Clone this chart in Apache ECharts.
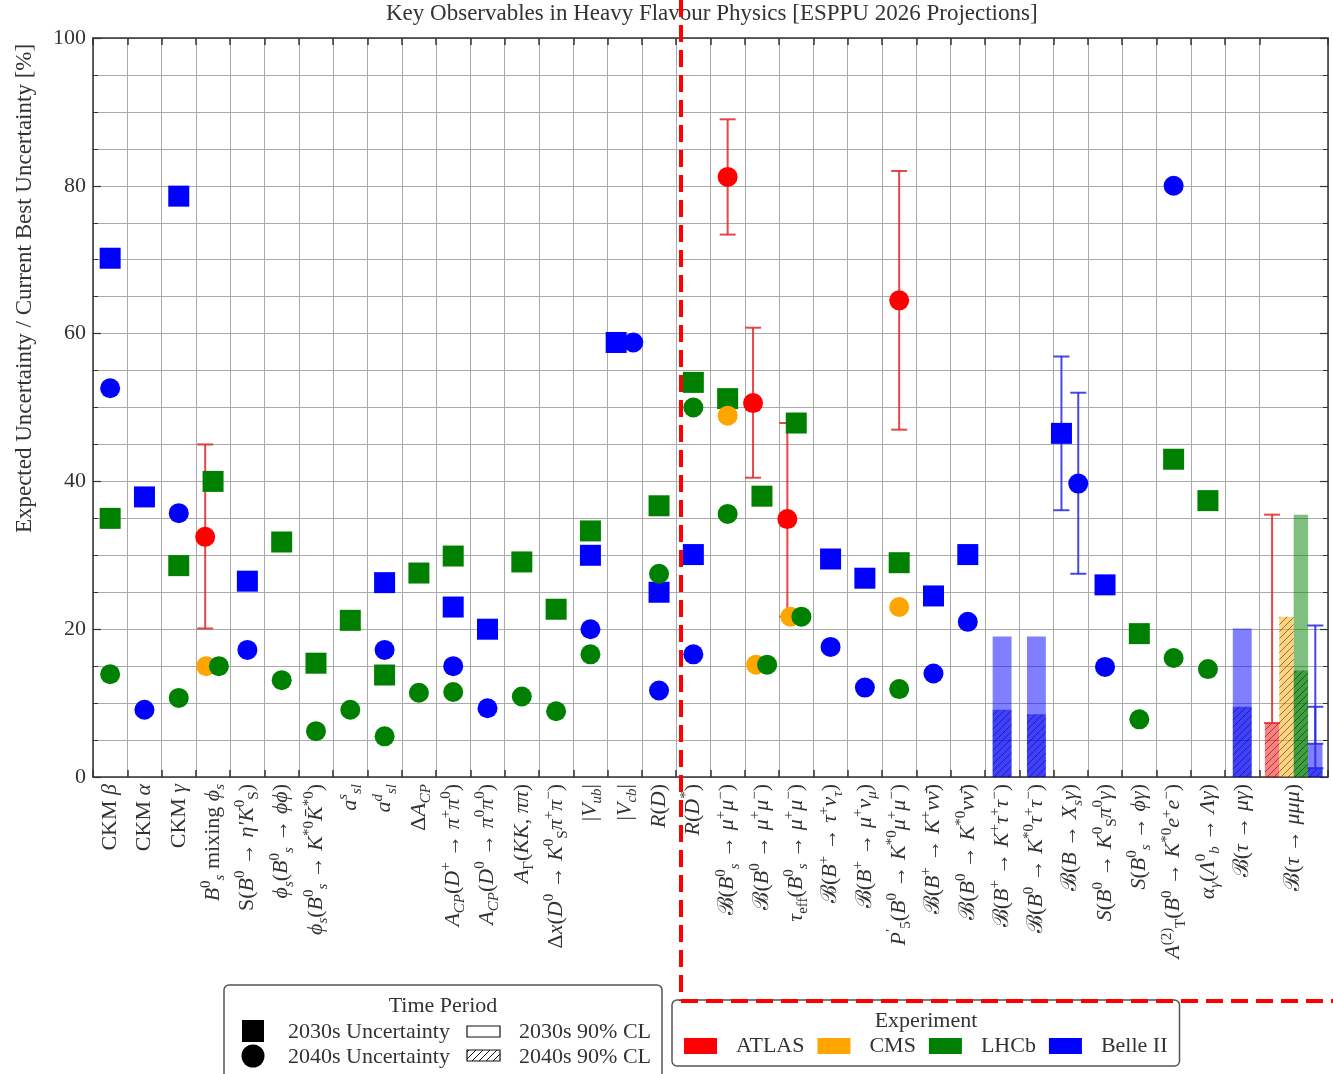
<!DOCTYPE html>
<html>
<head>
<meta charset="utf-8">
<script src="https://cdn.jsdelivr.net/npm/echarts@6/dist/echarts.min.js"></script>
<style>html,body{margin:0;padding:0;background:#fff}#c{width:1333px;height:1074px}</style>
</head>
<body>
<div id="c"></div>
<script>
// ---------------- DATA ----------------
const chartTitle = 'Key Observables in Heavy Flavour Physics [ESPPU 2026 Projections]';
const yAxisTitle = 'Expected Uncertainty / Current Best Uncertainty [%]';
const yTickValues = [0, 20, 40, 60, 80, 100];

const categoryLabels = [
  'CKM {i|β}',
  'CKM {i|α}',
  'CKM {i|γ}',
  '{i|B}{sp|0}{isb|s} mixing {i|ϕ}{isb|s}',
  'S({i|B}{sp|0} → {i|η′K}{sp|0}{sb|S})',
  '{i|ϕ}{isb|s}({i|B}{sp|0}{isb|s} → {i|ϕϕ})',
  '{i|ϕ}{isb|s}({i|B}{sp|0}{isb|s} → {i|K}{sp|*0}{i|K̄}{sp|*0})',
  '{i|a}{isp|s}{isb|sl}',
  '{i|a}{isp|d}{isb|sl}',
  'Δ{i|A}{isb|CP}',
  '{i|A}{isb|CP}({i|D}{sp|+} → {i|π}{sp|+}{i|π}{sp|0})',
  '{i|A}{isb|CP}({i|D}{sp|0} → {i|π}{sp|0}{i|π}{sp|0})',
  '{i|A}{sb|Γ}({i|KK}, {i|ππ})',
  'Δ{i|x}({i|D}{sp|0} → {i|K}{sp|0}{sb|S}{i|π}{sp|+}{i|π}{sp|−})',
  '|{i|V}{isb|ub}|',
  '|{i|V}{isb|cb}|',
  '{i|R}({i|D})',
  '{i|R}({i|D}{sp|*})',
  'ℬ({i|B}{sp|0}{isb|s} → {i|μ}{sp|+}{i|μ}{sp|−})',
  'ℬ({i|B}{sp|0} → {i|μ}{sp|+}{i|μ}{sp|−})',
  '{i|τ}{sb|eff}({i|B}{sp|0}{isb|s} → {i|μ}{sp|+}{i|μ}{sp|−})',
  'ℬ({i|B}{sp|+} → {i|τ}{sp|+}{i|ν}{isb|τ})',
  'ℬ({i|B}{sp|+} → {i|μ}{sp|+}{i|ν}{isb|μ})',
  '{i|P}{sp|′}{sb|5}({i|B}{sp|0} → {i|K}{sp|*0}{i|μ}{sp|+}{i|μ}{sp|−})',
  'ℬ({i|B}{sp|+} → {i|K}{sp|+}{i|νν̄})',
  'ℬ({i|B}{sp|0} → {i|K}{sp|*0}{i|νν̄})',
  'ℬ({i|B}{sp|+} → {i|K}{sp|+}{i|τ}{sp|+}{i|τ}{sp|−})',
  'ℬ({i|B}{sp|0} → {i|K}{sp|*0}{i|τ}{sp|+}{i|τ}{sp|−})',
  'ℬ({i|B} → {i|X}{isb|s}{i|γ})',
  '{i|S}({i|B}{sp|0} → {i|K}{sp|0}{sb|S}{i|π}{sp|0}{i|γ})',
  '{i|S}({i|B}{sp|0}{isb|s} → {i|ϕγ})',
  '{i|A}{sp|(2)}{sb|T}({i|B}{sp|0} → {i|K}{sp|*0}{i|e}{sp|+}{i|e}{sp|−})',
  '{i|α}{isb|γ}({i|Λ}{sp|0}{isb|b} → {i|Λγ})',
  'ℬ({i|τ} → {i|μγ})',
  'ℬ({i|τ} → {i|μμμ})'
];

const experiments = ['ATLAS', 'CMS', 'LHCb', 'Belle II'];

// points: [categoryIndex, value(%), optional small dodge within category]
const lhcb2030s = [[0,35.0],[2,28.6],[3,40.0],[5,31.8],[6,15.4],[7,21.2],[8,13.8],[9,27.6],[10,29.9],[12,29.1],[13,22.7],[14,33.3],[16,36.7],[17,53.4],[18,51.2],[19,38.0],[20,47.9],[23,29.0],[30,19.4],[31,43.0],[32,37.4]];
const lhcb2040s = [[0,13.9],[2,10.7],[3,15.0,0.17],[5,13.1],[6,6.2],[7,9.1],[8,5.5],[9,11.4],[10,11.5],[12,10.9],[13,8.9],[14,16.6],[16,27.5],[17,50.0],[18,35.6],[19,15.2,0.15],[20,21.7,0.15],[23,11.9],[30,7.8],[31,16.1],[32,14.6]];
const belle2030s = [[0,70.2],[1,37.9],[2,78.6],[4,26.5],[8,26.3],[10,23.0],[11,20.0],[14,30.0],[15,58.8,-0.25],[16,25.0],[17,30.1],[21,29.5],[22,26.9],[24,24.5],[25,30.1],[28,46.5,-0.27],[29,26.0]];
const belle2040s = [[0,52.6],[1,9.1],[2,35.7],[4,17.2],[8,17.2],[10,15.0],[11,9.3],[14,20.0],[15,58.8,0.25],[16,11.7],[17,16.6],[21,17.6],[22,12.1],[24,14.0],[25,21.0],[28,39.7,0.22],[29,14.9],[31,80.0]];
const atlas2040s = [[3,32.5,-0.23],[18,81.2],[19,50.6,-0.26],[20,34.9,-0.26],[23,64.5]];
const cms2040s = [[3,15.0,-0.2],[18,48.9],[19,15.2,-0.17],[20,21.7,-0.17],[23,23.0]];

// uncertainty ranges: [categoryIndex, low, high, optional dodge]
const atlasRanges = [[3,20.1,45.0,-0.23],[18,73.4,89.0],[19,40.5,60.8,-0.26],[20,21.7,47.9,-0.26],[23,47.0,82.0]];
const belleRanges = [[28,36.1,56.9,-0.27],[28,27.5,52.0,0.22]];

// 90% CL limits: [categoryIndex, experiment, 2030s, 2040s]
const clLimits = [
  [26,'Belle II',19.0,9.1],
  [27,'Belle II',19.0,8.5],
  [33,'Belle II',20.1,9.5],
  [34,'ATLAS',null,7.3],
  [34,'CMS',null,21.7],
  [34,'LHCb',35.5,14.4],
  [34,'Belle II',4.5,1.2]
];
// limit ranges drawn with caps: [categoryIndex, experiment, low, high]
const clRanges = [[34,'ATLAS',7.3,35.5],[34,'Belle II',4.5,20.5],[34,'Belle II',1.2,9.5]];

// ---------------- STYLE / LAYOUT ----------------
const F = '"Liberation Serif", "DejaVu Serif", serif';
const TXT = '#333';
const LBL = 22;
const expColor = {'ATLAS':'#ff0000','CMS':'#ffa500','LHCb':'#008000','Belle II':'#0000ff'};
const expRGB = {'ATLAS':'255,0,0','CMS':'255,165,0','LHCb':'0,128,0','Belle II':'0,0,255'};
const errColor = {'ATLAS':'rgba(225,40,40,0.85)','Belle II':'rgba(40,40,225,0.85)'};

const nCat = categoryLabels.length;
const lastWide = nCat - 1; // the last category holds four experiments side by side
const xCenter = i => (i < lastWide ? i + 0.5 : i + 1);
const xMax = nCat + 1;
const centers = categoryLabels.map((_, i) => xCenter(i));
const boundaries = [];
for (let i = 0; i < nCat; i++) boundaries.push(i);
boundaries.push(xMax);

function fmtLabel(v) {
  for (let i = 0; i < nCat; i++) if (Math.abs(centers[i] - v) < 1e-6) return categoryLabels[i];
  return '';
}

function rich(size) {
  const s = Math.round(size * 0.68);
  return {
    i: {fontFamily: F, fontSize: size, fontStyle: 'italic', color: TXT},
    sp: {fontFamily: F, fontSize: s, verticalAlign: 'top', color: TXT},
    sb: {fontFamily: F, fontSize: s, verticalAlign: 'bottom', color: TXT},
    isp: {fontFamily: F, fontSize: s, fontStyle: 'italic', verticalAlign: 'top', color: TXT},
    isb: {fontFamily: F, fontSize: s, fontStyle: 'italic', verticalAlign: 'bottom', color: TXT}
  };
}

function hatch(fillColor, lineColor) {
  const c = document.createElement('canvas');
  c.width = 7; c.height = 7;
  const g = c.getContext('2d');
  if (fillColor) { g.fillStyle = fillColor; g.fillRect(0, 0, 7, 7); }
  g.strokeStyle = lineColor; g.lineWidth = 1;
  g.beginPath();
  g.moveTo(-1, 8); g.lineTo(8, -1);
  g.moveTo(-1, 1); g.lineTo(1, -1);
  g.moveTo(6, 8); g.lineTo(8, 6);
  g.stroke();
  return {image: c, repeat: 'repeat'};
}

const pt = arr => arr.map(p => [xCenter(p[0]) + (p[2] || 0), p[1]]);

// bar table built from clLimits
const perCat = {};
clLimits.forEach(r => { (perCat[r[0]] = perCat[r[0]] || []).push(r[1]); });
function slotX(cat, exp) {
  const list = perCat[cat];
  const n = list.length;
  const w = n > 1 ? 0.42 : 0.55;
  const k = list.indexOf(exp);
  return {x: xCenter(cat) + (k - (n - 1) / 2) * w, w: w};
}
const barItems = [];
clLimits.forEach(r => { if (r[2] != null) { const s = slotX(r[0], r[1]); barItems.push([s.x, s.w, r[2], 0, experiments.indexOf(r[1])]); } });
clLimits.forEach(r => { if (r[3] != null) { const s = slotX(r[0], r[1]); barItems.push([s.x, s.w, r[3], 1, experiments.indexOf(r[1])]); } });

const errItems = [];
atlasRanges.forEach(r => errItems.push([xCenter(r[0]) + (r[3] || 0), r[1], r[2], 0]));
belleRanges.forEach(r => errItems.push([xCenter(r[0]) + (r[3] || 0), r[1], r[2], 3]));
clRanges.forEach(r => { const s = slotX(r[0], r[1]); errItems.push([s.x, r[2], r[3], experiments.indexOf(r[1])]); });

const hatchFill = {};
experiments.forEach(e => { hatchFill[e] = hatch('rgba(' + expRGB[e] + ',0.5)', 'rgba(0,0,0,0.45)'); });

const chart = echarts.init(document.getElementById('c'), null, {renderer: 'canvas'});

const frameLine = {show: true, onZero: false, lineStyle: {color: '#333', width: 1.5}};
const gridLine = {color: '#aaa', width: 1};

function scatter(name, data, symbol, size, z) {
  return {
    type: 'scatter', name: name, data: pt(data), symbol: symbol, symbolSize: size, z: z,
    itemStyle: {color: expColor[name], opacity: 1}, emphasis: {disabled: true}, silent: true
  };
}

const option = {
  animation: false,
  backgroundColor: '#fff',
  textStyle: {fontFamily: F},
  title: {
    text: chartTitle, left: 386, top: 2, padding: 0,
    textStyle: {fontFamily: F, fontSize: 23, fontWeight: 'normal', color: TXT}
  },
  grid: {left: 93, right: 5, top: 38, bottom: 297, containLabel: false, outerBoundsMode: 'none'},
  legend: {
    left: 672, top: 1000, selectedMode: false,
    data: experiments.map(e => ({name: e, icon: 'rect', itemStyle: {color: expColor[e], borderWidth: 0, opacity: 1}})),
    itemWidth: 33, itemHeight: 16, itemGap: 13,
    padding: [35, 12, 9, 12],
    borderColor: '#555', borderWidth: 1.5, borderRadius: 5, backgroundColor: '#fff',
    textStyle: {fontFamily: F, fontSize: LBL, color: TXT, padding: [0, 0, 0, 14]}
  },
  xAxis: [{
    type: 'value', min: 0, max: xMax, position: 'bottom',
    axisLine: frameLine,
    axisTick: {show: true, inside: true, length: 7, customValues: boundaries, lineStyle: {color: '#333', width: 1.5}},
    axisLabel: {
      customValues: centers, formatter: fmtLabel, rotate: 90, margin: 7,
      fontFamily: F, fontSize: LBL, color: TXT, lineHeight: 29, rich: rich(LBL)
    },
    splitLine: {show: true, lineStyle: gridLine}
  }, {
    type: 'value', min: 0, max: xMax, position: 'top',
    axisLine: frameLine,
    axisTick: {show: true, inside: true, length: 7, customValues: boundaries, lineStyle: {color: '#333', width: 1.5}},
    axisLabel: {show: false}, splitLine: {show: false}
  }],
  yAxis: [{
    type: 'value', min: 0, max: 100, interval: 20, position: 'left',
    axisLine: frameLine,
    axisTick: {show: true, inside: true, length: 8, lineStyle: {color: '#333', width: 1.2}},
    minorTick: {show: true, splitNumber: 4, length: 5, lineStyle: {color: '#333', width: 1}},
    splitLine: {show: true, lineStyle: gridLine},
    minorSplitLine: {show: true, lineStyle: gridLine},
    axisLabel: {fontFamily: F, fontSize: LBL, color: TXT, margin: 7, customValues: yTickValues},
    name: yAxisTitle, nameLocation: 'middle', nameGap: 57, nameRotate: 90,
    nameTextStyle: {fontFamily: F, fontSize: 23, color: TXT, padding: [0, 0, 0, 238]}
  }, {
    type: 'value', min: 0, max: 100, interval: 20, position: 'right',
    axisLine: frameLine,
    axisTick: {show: true, inside: true, length: 8, lineStyle: {color: '#333', width: 1.2}},
    minorTick: {show: true, splitNumber: 4, length: 5, lineStyle: {color: '#333', width: 1}},
    axisLabel: {show: false}, splitLine: {show: false}
  }],
  series: [
    {
      type: 'custom', name: '90% CL limits', data: barItems, z: 2, silent: true,
      renderItem: function (params, api) {
        const x = api.value(0), w = api.value(1), v = api.value(2), period = api.value(3), e = experiments[api.value(4)];
        const p0 = api.coord([x - w / 2, 0]);
        const p1 = api.coord([x + w / 2, v]);
        const shape = {x: p0[0], y: p1[1], width: p1[0] - p0[0], height: p0[1] - p1[1]};
        return {type: 'rect', shape: shape,
          style: {fill: period === 0 ? 'rgba(' + expRGB[e] + ',0.5)' : hatchFill[e], stroke: null}};
      }
    },
    {
      type: 'custom', name: 'ranges', data: errItems, z: 3, silent: true,
      renderItem: function (params, api) {
        const x = api.value(0), lo = api.value(1), hi = api.value(2), e = experiments[api.value(3)];
        const a = api.coord([x, lo]), b = api.coord([x, hi]);
        const col = errColor[e] || expColor[e];
        const st = {stroke: col, lineWidth: 2};
        const cw = 8;
        return {type: 'group', children: [
          {type: 'line', shape: {x1: a[0], y1: a[1], x2: b[0], y2: b[1]}, style: st},
          {type: 'line', shape: {x1: a[0] - cw, y1: a[1], x2: a[0] + cw, y2: a[1]}, style: st},
          {type: 'line', shape: {x1: b[0] - cw, y1: b[1], x2: b[0] + cw, y2: b[1]}, style: st}
        ]};
      }
    },
    scatter('LHCb', lhcb2030s, 'rect', 21, 4),
    scatter('Belle II', belle2030s, 'rect', 21, 4),
    scatter('CMS', cms2040s, 'circle', 20, 5),
    scatter('LHCb', lhcb2040s, 'circle', 20, 6),
    scatter('Belle II', belle2040s, 'circle', 20, 6),
    scatter('ATLAS', atlas2040s, 'circle', 20, 7)
  ],
  graphic: [
    // Time Period legend
    {type: 'group', z: 50, children: [
      {type: 'rect', shape: {x: 224, y: 985, width: 438, height: 100, r: 5}, style: {fill: '#fff', stroke: '#555', lineWidth: 1.5}},
      {type: 'text', x: 443, y: 1006, style: {text: 'Time Period', font: LBL + 'px ' + F, fill: TXT, align: 'center', verticalAlign: 'middle'}},
      {type: 'rect', shape: {x: 242, y: 1020, width: 22, height: 22}, style: {fill: '#000'}},
      {type: 'circle', shape: {cx: 253, cy: 1056, r: 11.5}, style: {fill: '#000'}},
      {type: 'text', x: 288, y: 1032, style: {text: '2030s Uncertainty', font: LBL + 'px ' + F, fill: TXT, align: 'left', verticalAlign: 'middle'}},
      {type: 'text', x: 288, y: 1057, style: {text: '2040s Uncertainty', font: LBL + 'px ' + F, fill: TXT, align: 'left', verticalAlign: 'middle'}},
      {type: 'rect', shape: {x: 467, y: 1026, width: 33, height: 11}, style: {fill: '#fff', stroke: '#111', lineWidth: 1.2}},
      {type: 'rect', shape: {x: 467, y: 1050, width: 33, height: 11}, style: {fill: hatch('#fff', '#111'), stroke: '#111', lineWidth: 1.2}},
      {type: 'text', x: 519, y: 1032, style: {text: '2030s 90% CL', font: LBL + 'px ' + F, fill: TXT, align: 'left', verticalAlign: 'middle'}},
      {type: 'text', x: 519, y: 1057, style: {text: '2040s 90% CL', font: LBL + 'px ' + F, fill: TXT, align: 'left', verticalAlign: 'middle'}}
    ]},
    // Experiment legend title
    {type: 'text', x: 926, y: 1021, z: 60, style: {text: 'Experiment', font: LBL + 'px ' + F, fill: TXT, align: 'center', verticalAlign: 'middle'}},
    // red dashed highlight
    {type: 'line', z: 100, shape: {x1: 681, y1: 0, x2: 681, y2: 1001}, style: {stroke: '#ff0000', lineWidth: 4, lineDash: [17, 8]}},
    {type: 'line', z: 100, shape: {x1: 681, y1: 1001, x2: 1333, y2: 1001}, style: {stroke: '#ff0000', lineWidth: 4, lineDash: [17, 8]}}
  ]
};
chart.setOption(option);
</script>
</body>
</html>
